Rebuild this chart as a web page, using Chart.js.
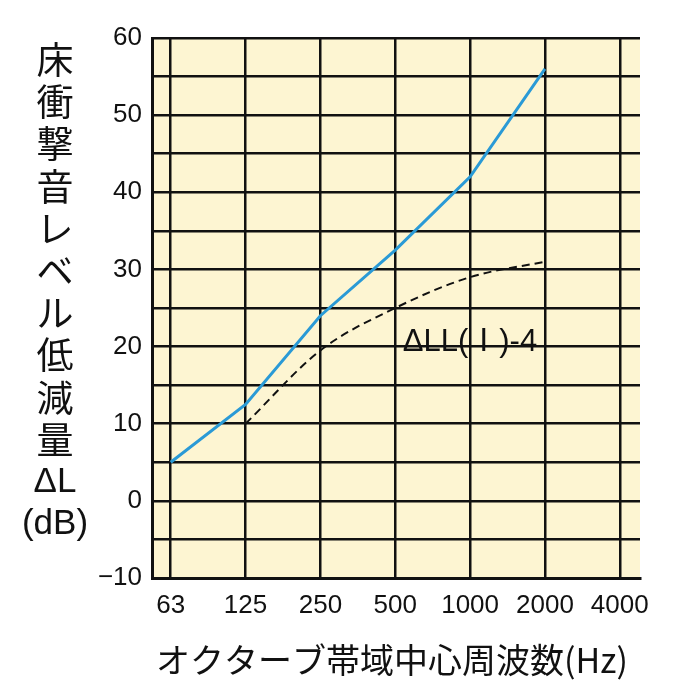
<!DOCTYPE html>
<html>
<head>
<meta charset="utf-8">
<script src="https://cdn.jsdelivr.net/npm/chart.js@4"></script>
<style>
  body { margin: 0; background: #fff; }
  #wrap { position: relative; width: 700px; height: 700px; }
</style>
</head>
<body>
<div id="wrap"><canvas id="chart" width="700" height="700"></canvas></div>
<script>
const bandLabels = ["63", "125", "250", "500", "1000", "2000", "4000"];
const blueIdx = [0, 1, 2, 3, 4, 5];
const blueValues = [5, 12.5, 24, 32.5, 42, 56];
const dashIdx = [1, 2, 3, 4, 5];
const dashValues = [10, 19.5, 25, 29, 31];
const yTicks = [-10, 0, 10, 20, 30, 40, 50, 60];
const yTitle = "床衝撃音レベル低減量";
const xTitle = "オクターブ帯域中心周波数(Hz)";

const textPlugin = {
  id: "texts",
  afterDraw(chart) {
    const ctx = chart.ctx;
    ctx.save();
    ctx.fillStyle = "#111";
    ctx.textAlign = "center";
    ctx.textBaseline = "middle";
    ctx.font = "37px 'Noto Sans CJK JP'";
    [...yTitle].forEach((ch, i) => ctx.fillText(ch, 55, 60 + i * 42.2));
    ctx.font = "35px 'Liberation Sans'";
    ctx.fillText("ΔL", 55, 482);
    ctx.fillText("(dB)", 55, 524);
    ctx.font = "34px 'Noto Sans CJK JP'";
    ctx.fillText(xTitle, 392, 660);
    ctx.font = "31px 'Liberation Sans', 'Noto Sans CJK JP'";
    ctx.textAlign = "left";
    const xs = chart.scales.x, ys = chart.scales.y;
    ctx.fillText("ΔLL(Ⅰ)-4", xs.getPixelForValue(3.1), ys.getPixelForValue(20.5));
    ctx.restore();
  }
};

new Chart(document.getElementById("chart"), {
  type: "line",
  data: {
    datasets: [
      {
        data: blueIdx.map((x, i) => ({ x: x, y: blueValues[i] })),
        borderColor: "#2a9ad6",
        borderWidth: 3,
        pointRadius: 0,
        tension: 0,
      },
      {
        data: dashIdx.map((x, i) => ({ x: x, y: dashValues[i] })),
        borderColor: "#111",
        borderWidth: 2,
        borderDash: [8, 5],
        pointRadius: 0,
        cubicInterpolationMode: "monotone",
      },
    ],
  },
  options: {
    responsive: false,
    animation: false,
    layout: { padding: { left: 90, right: 60, top: 38, bottom: 0 } },
    plugins: { legend: { display: false }, tooltip: { enabled: false } },
    scales: {
      x: {
        type: "linear",
        min: -0.25,
        max: 6.27,
        afterBuildTicks: (s) => { s.ticks = bandLabels.map((_, i) => ({ value: i })); },
        afterFit: (s) => { s.height = 122; },
        ticks: {
          callback: (v) => bandLabels[v],
          color: "#111",
          font: { size: 26, family: "Liberation Sans" },
          padding: 12,
          maxRotation: 0,
        },
        grid: { color: "#111", lineWidth: 2.5, drawTicks: false },
        border: { color: "#111", width: 3 },
      },
      y: {
        min: -10,
        max: 60,
        afterBuildTicks: (s) => {
          const t = [];
          for (let v = -10; v <= 60; v += 5) t.push({ value: v });
          s.ticks = t;
        },
        afterFit: (s) => { s.width = 62; },
        ticks: {
          callback: (v) => (yTicks.includes(v) ? (v < 0 ? "−" + Math.abs(v) : v) : ""),
          color: "#111",
          font: { size: 26, family: "Liberation Sans" },
          padding: 10,
        },
        grid: { color: "#111", lineWidth: 2.5, drawTicks: false },
        border: { color: "#111", width: 3 },
      },
    },
  },
  plugins: [
    {
      id: "bg",
      beforeDraw(chart) {
        const a = chart.chartArea;
        chart.ctx.fillStyle = "#fdf5d2";
        chart.ctx.fillRect(a.left, a.top, a.right - a.left, a.bottom - a.top);
      },
    },
    textPlugin,
  ],
});
</script>
</body>
</html>
